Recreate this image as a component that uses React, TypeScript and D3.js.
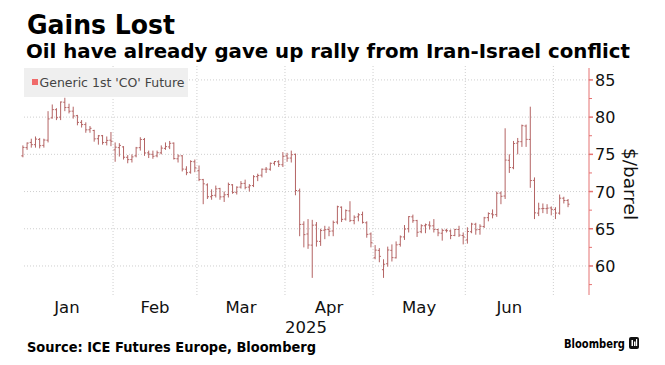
import React from "react";
import * as d3 from "d3";

const dates = [
  "2025-01-02","2025-01-03","2025-01-06","2025-01-07","2025-01-08","2025-01-09","2025-01-10","2025-01-13","2025-01-14","2025-01-15","2025-01-16","2025-01-17","2025-01-20","2025-01-21","2025-01-22","2025-01-23","2025-01-24","2025-01-27","2025-01-28","2025-01-29","2025-01-30","2025-01-31",
  "2025-02-03","2025-02-04","2025-02-05","2025-02-06","2025-02-07","2025-02-10","2025-02-11","2025-02-12","2025-02-13","2025-02-14","2025-02-17","2025-02-18","2025-02-19","2025-02-20","2025-02-21","2025-02-24","2025-02-25","2025-02-26","2025-02-27","2025-02-28",
  "2025-03-03","2025-03-04","2025-03-05","2025-03-06","2025-03-07","2025-03-10","2025-03-11","2025-03-12","2025-03-13","2025-03-14","2025-03-17","2025-03-18","2025-03-19","2025-03-20","2025-03-21","2025-03-24","2025-03-25","2025-03-26","2025-03-27","2025-03-28","2025-03-31",
  "2025-04-01","2025-04-02","2025-04-03","2025-04-04","2025-04-07","2025-04-08","2025-04-09","2025-04-10","2025-04-11","2025-04-14","2025-04-15","2025-04-16","2025-04-17","2025-04-21","2025-04-22","2025-04-23","2025-04-24","2025-04-25","2025-04-28","2025-04-29","2025-04-30",
  "2025-05-01","2025-05-02","2025-05-05","2025-05-06","2025-05-07","2025-05-08","2025-05-09","2025-05-12","2025-05-13","2025-05-14","2025-05-15","2025-05-16","2025-05-19","2025-05-20","2025-05-21","2025-05-22","2025-05-23","2025-05-26","2025-05-27","2025-05-28","2025-05-29","2025-05-30",
  "2025-06-02","2025-06-03","2025-06-04","2025-06-05","2025-06-06","2025-06-09","2025-06-10","2025-06-11","2025-06-12","2025-06-13","2025-06-16","2025-06-17","2025-06-18","2025-06-19","2025-06-20","2025-06-23","2025-06-24","2025-06-25","2025-06-26","2025-06-27","2025-06-30",
  "2025-07-01","2025-07-02","2025-07-03","2025-07-04"
];

const opens = [
  74.8,75.9,76.6,76.3,77.0,76.2,76.9,79.9,81.0,80.0,82.0,81.3,80.8,80.2,79.3,79.0,78.3,78.2,77.1,77.5,76.6,76.9,
  75.6,75.9,76.0,74.6,74.3,74.8,75.9,77.0,75.2,75.0,74.8,75.2,75.8,76.0,76.5,74.4,74.8,73.0,72.6,74.0,
  72.8,71.6,70.9,69.3,69.5,70.4,69.3,69.6,70.9,69.9,70.6,71.1,70.6,70.8,72.0,72.2,73.0,73.0,73.8,74.0,73.6,
  74.8,74.5,75.0,70.1,65.6,64.3,62.8,65.5,63.3,64.8,64.9,64.7,65.9,67.9,66.3,67.4,66.1,66.6,66.9,65.8,64.3,
  61.1,62.1,59.5,60.3,62.1,61.1,62.9,63.9,65.0,66.6,66.1,64.6,65.4,65.5,65.4,64.9,64.4,64.8,64.7,64.1,64.9,64.1,
  63.5,64.6,65.6,64.9,65.3,66.5,67.0,66.9,69.8,69.4,74.2,73.2,76.5,76.7,78.8,77.0,71.5,67.1,67.7,67.7,67.8,
  67.6,67.1,69.1,68.8
];

const highs = [
  76.2,76.6,77.1,77.4,77.2,77.1,80.8,81.7,81.2,82.1,82.6,81.8,81.4,80.3,79.6,79.3,78.8,78.3,77.6,77.6,77.4,78.0,
  76.6,76.5,76.1,74.9,75.0,76.0,77.3,77.2,75.5,75.5,75.5,76.2,76.6,76.8,76.6,75.0,74.9,73.4,74.2,74.3,
  73.5,71.7,71.1,70.3,70.8,70.5,70.0,71.2,71.0,70.7,71.4,71.6,71.0,72.2,72.4,73.1,73.3,73.9,74.1,74.2,75.3,
  75.2,75.5,75.1,70.4,66.0,66.3,66.2,65.9,65.0,65.4,65.3,66.1,68.1,68.0,67.6,68.7,66.8,67.1,67.3,66.0,64.5,
  62.8,62.4,60.9,62.6,62.9,63.3,64.1,65.5,66.7,66.9,66.2,65.6,65.7,66.0,66.3,65.0,65.0,65.0,64.9,65.0,65.4,64.5,
  65.2,65.8,65.8,65.6,66.6,67.2,67.6,70.0,70.0,78.5,75.0,76.8,77.2,79.0,79.0,81.4,71.9,68.5,68.4,68.3,68.0,
  67.9,69.6,69.3,69.0
];

const lows = [
  74.6,75.6,75.9,75.9,75.8,75.9,76.6,79.8,79.6,79.6,80.8,80.5,79.8,78.9,78.6,77.9,77.9,76.7,76.3,76.3,76.2,76.1,
  74.0,74.7,74.3,73.8,73.9,74.6,75.5,74.8,74.5,74.4,74.6,75.0,75.6,75.7,74.3,73.9,72.7,72.2,72.4,72.6,
  71.4,68.3,69.0,68.9,69.2,68.9,68.6,69.2,69.7,69.6,70.4,70.3,70.0,70.6,71.4,71.9,72.5,72.8,73.5,73.3,73.3,
  74.0,73.9,69.5,64.0,62.5,62.3,58.4,62.6,62.7,63.6,64.0,64.0,65.6,65.9,66.1,65.9,65.6,66.0,65.7,63.8,62.5,
  60.9,60.5,58.4,59.9,60.6,61.0,62.6,63.5,64.5,65.8,63.9,64.4,64.4,64.9,64.5,64.0,63.4,64.5,63.6,64.0,63.9,62.9,
  63.0,64.4,64.2,64.2,65.1,66.0,66.4,66.6,68.3,69.0,72.5,73.0,75.0,76.0,76.0,70.5,66.3,66.7,67.1,67.0,66.8,
  66.3,66.9,68.4,67.9
];

const closes = [
  75.93,76.51,76.30,77.05,76.16,76.92,79.76,81.01,79.92,82.03,81.29,80.79,80.15,79.29,79.00,78.29,78.50,77.08,77.49,76.58,76.87,76.76,
  75.96,76.20,74.61,74.29,74.66,75.87,77.00,75.18,75.02,74.74,75.22,75.84,76.04,76.48,74.43,74.78,73.02,72.53,74.04,73.18,
  71.62,71.04,69.30,69.46,70.36,69.28,69.56,70.95,69.88,70.58,71.07,70.56,70.78,72.00,72.16,73.00,73.02,73.79,74.03,73.63,74.74,
  74.49,74.95,70.14,65.58,64.21,62.82,65.48,63.33,64.76,64.88,64.67,65.85,67.96,66.26,67.44,66.12,66.55,66.87,65.86,64.25,63.12,
  62.13,61.29,60.23,62.15,61.12,62.84,63.91,64.96,66.63,66.09,64.53,65.41,65.54,65.38,64.91,64.44,64.78,64.74,64.09,64.90,64.15,63.90,
  64.63,65.63,64.86,65.34,66.47,67.04,66.87,69.77,69.36,74.23,73.23,76.45,76.70,78.85,77.01,71.48,67.14,67.68,67.73,67.77,67.61,
  67.11,69.11,68.80,68.30
];

const yTicks = [60, 65, 70, 75, 80, 85];
const monthNames = ["Jan", "Feb", "Mar", "Apr", "May", "Jun", "Jul"];
const yearLabel = "2025";
const titleText = "Gains Lost";
const subtitleText = "Oil have already gave up rally from Iran-Israel conflict";
const legendText = "Generic 1st 'CO' Future";
const axisTitle = "$/barrel";
const sourceText = "Source: ICE Futures Europe, Bloomberg";

export default function App() {
  const W = 665, H = 365;
  const left = 20.8, right = 589, top = 68, bottom = 295;
  const x = d3.scaleLinear().domain([-0.5, 135]).range([left, right]);
  const y = d3.scaleLinear().domain([56.1, 86.6]).range([bottom, top]);

  const monthStarts: number[] = [];
  const monthIdx: number[] = [];
  dates.forEach((d, i) => {
    const m = +d.slice(5, 7) - 1;
    if (i === 0 || +dates[i - 1].slice(5, 7) - 1 !== m) {
      monthStarts.push(i);
      monthIdx.push(m);
    }
  });
  const bounds = monthStarts.map((i) => x(i - 0.5));
  const gridX = bounds.slice(1);
  const labels = monthIdx.slice(0, 6).map((m, k) => ({
    name: monthNames[m],
    cx: (bounds[k] + bounds[k + 1]) / 2,
  }));

  const minorTicks = d3.range(57.5, 86.6, 2.5).filter((v) => v % 5 !== 0);
  const barColor = "#b46464";
  const axisColor = "#e57373";
  const font = "DejaVu Sans, sans-serif";

  return (
    <svg width={W} height={H} style={{ position: "absolute", left: 0, top: 0, background: "#fff" }}>
      <rect x={0} y={0} width={W} height={H} fill="#fff" />
      <text x={27} y={34} fontFamily={font} fontWeight="bold" fontSize={27} textLength={148} lengthAdjust="spacingAndGlyphs" fill="#000">{titleText}</text>
      <text x={26} y={58} fontFamily={font} fontWeight="bold" fontSize={19} textLength={604} lengthAdjust="spacingAndGlyphs" fill="#000">{subtitleText}</text>

      {yTicks.map((v) => (
        <line key={"gy" + v} x1={24} x2={right} y1={y(v)} y2={y(v)} stroke="#cfcfcf" strokeWidth={1} strokeDasharray="1,2" />
      ))}
      {gridX.map((gx, k) => (
        <line key={"gx" + k} x1={gx} x2={gx} y1={top - 2} y2={bottom} stroke="#cfcfcf" strokeWidth={1} strokeDasharray="1,2" />
      ))}

      <rect x={24} y={68} width={164} height={29} fill="#efefef" />
      <rect x={32} y={79} width={6} height={6} fill="#f06a6a" />
      <text x={39.5} y={87} fontFamily={font} fontSize={12.5} fill="#444">{legendText}</text>

      <g stroke={barColor} strokeWidth={1} fill="none">
        {dates.map((d, i) => {
          const cx = x(i);
          return (
            <g key={d}>
              <line x1={cx} x2={cx} y1={y(highs[i])} y2={y(lows[i])} />
              <line x1={cx - 1.6} x2={cx} y1={y(opens[i])} y2={y(opens[i])} />
              <line x1={cx} x2={cx + 1.6} y1={y(closes[i])} y2={y(closes[i])} />
            </g>
          );
        })}
      </g>

      <line x1={right} x2={right} y1={top} y2={bottom} stroke={axisColor} strokeWidth={1} />
      {yTicks.map((v) => (
        <g key={"t" + v}>
          <line x1={right} x2={right + 4} y1={y(v)} y2={y(v)} stroke={axisColor} strokeWidth={1.5} />
          <text x={595} y={y(v) + 6} fontFamily={font} fontSize={16} fill="#111">{v}</text>
        </g>
      ))}
      {minorTicks.map((v) => (
        <line key={"m" + v} x1={right} x2={right + 3} y1={y(v)} y2={y(v)} stroke={axisColor} strokeWidth={1} />
      ))}
      <text transform={`translate(624,184) rotate(90)`} textAnchor="middle" fontFamily={font} fontSize={18.5} fill="#111">{axisTitle}</text>

      {labels.map((l) => (
        <text key={l.name} x={l.cx} y={313} textAnchor="middle" fontFamily={font} fontSize={16.5} fill="#111">{l.name}</text>
      ))}
      <text x={306} y={333} textAnchor="middle" fontFamily={font} fontSize={16.5} fill="#111">{yearLabel}</text>

      <text x={27} y={352} fontFamily={font} fontWeight="bold" fontSize={13.5} textLength={289} lengthAdjust="spacingAndGlyphs" fill="#000">{sourceText}</text>
      <text x={564} y={348} fontFamily={font} fontWeight="bold" fontSize={12.5} textLength={61} lengthAdjust="spacingAndGlyphs" fill="#000">Bloomberg</text>
      <rect x={629} y={337} width={10} height={12} rx={2} fill="#111" />
      <rect x={631.5} y={340} width={1.5} height={6} fill="#fff" />
      <rect x={634} y={341.5} width={1.5} height={4.5} fill="#fff" />
      <rect x={636} y={339} width={1.2} height={7} fill="#fff" />
    </svg>
  );
}
